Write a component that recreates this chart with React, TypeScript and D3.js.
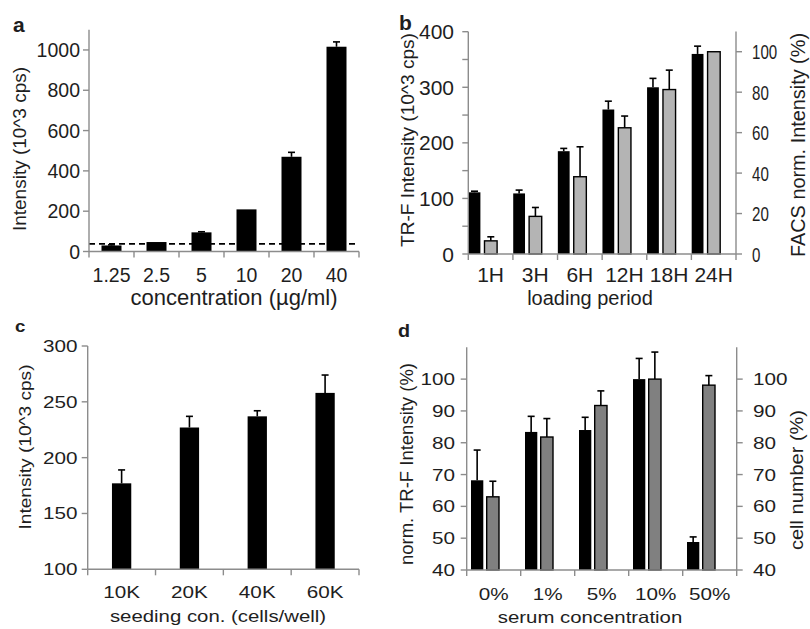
import React from 'react';
import * as d3 from 'd3';

// ---------- DATA ----------
const concCats = ['1.25', '2.5', '5', '10', '20', '40'];
const concVals = [30, 47, 95, 209, 470, 1016];
const concErr = [3, 2, 3, 2, 22, 24];
const concThreshold = 38;
const concTicks = [0, 200, 400, 600, 800, 1000];

const loadCats = ['1H', '3H', '6H', '12H', '18H', '24H'];
const loadTRF = [111, 109, 185, 260, 300, 360];
const loadTRFErr = [2, 6, 5, 15, 16, 14];
const loadFACS = [6.5, 18.6, 38.2, 62.4, 81.3, 100];
const loadFACSErr = [2, 4.4, 14.8, 5.8, 9.6, 0];
const loadLeftTicks = [0, 50, 100, 150, 200, 250, 300, 350, 400];
const loadLeftLabels = [0, 100, 200, 300, 400];
const loadRightTicks = [0, 20, 40, 60, 80, 100];

const seedCats = ['10K', '20K', '40K', '60K'];
const seedVals = [177, 227, 237, 258];
const seedErr = [12, 10, 5, 16];
const seedTicks = [100, 150, 200, 250, 300];

const serumCats = ['0%', '1%', '5%', '10%', '50%'];
const serumTRF = [68.2, 83.4, 84, 100, 48.8];
const serumTRFErr = [9.5, 4.9, 4, 6.5, 1.6];
const serumCell = [63, 81.8, 91.7, 100, 98.1];
const serumCellErr = [4.9, 5.8, 4.6, 8.5, 3];
const serumTicks = [40, 50, 60, 70, 80, 90, 100];

// ---------- STYLE ----------
const FONT = '"Liberation Sans", Arial, Helvetica, sans-serif';
const AXIS = '#8c8c8c';
const TXT = '#1e1e1e';

function T(props: {
  x: number; y: number; s: number; sx?: number; anchor?: string; rot?: boolean;
  bold?: boolean; len?: number; children: React.ReactNode;
}) {
  const { x, y, s, sx = 1, anchor = 'middle', rot = false, bold = false, len } = props;
  const tr = rot ? `translate(${x},${y}) rotate(-90)` : `translate(${x},${y}) scale(${sx},1)`;
  return (
    <text
      transform={tr}
      fontSize={s}
      fontFamily={FONT}
      fontWeight={bold ? 'bold' : 'normal'}
      fill={TXT}
      textAnchor={anchor as any}
      textLength={len}
      lengthAdjust={len ? 'spacingAndGlyphs' : undefined}
    >
      {props.children}
    </text>
  );
}

function ErrBar({ cx, y0, y1 }: { cx: number; y0: number; y1: number }) {
  if (Math.abs(y0 - y1) < 0.5) return null;
  return (
    <g stroke="#000" strokeWidth={1.6}>
      <line x1={cx} x2={cx} y1={y0} y2={y1} />
      <line x1={cx - 3.5} x2={cx + 3.5} y1={y1} y2={y1} />
    </g>
  );
}

function PanelA() {
  const x = d3.scaleBand<string>().domain(concCats).range([89, 359]);
  const y = d3.scaleLinear().domain([0, 1100]).range([251.5, 29.8]);
  const bw = 20;
  const edges = concCats.map((c) => x(c)!).concat([359]);
  return (
    <g>
      {concCats.map((c, i) => {
        const cx = x(c)! + x.bandwidth() / 2;
        return (
          <g key={c}>
            <rect x={cx - bw / 2} y={y(concVals[i])} width={bw} height={y(0) - y(concVals[i])} fill="#000" />
            <ErrBar cx={cx} y0={y(concVals[i])} y1={y(concVals[i] + concErr[i])} />
          </g>
        );
      })}
      <line x1={89} x2={359} y1={y(concThreshold)} y2={y(concThreshold)} stroke="#000" strokeWidth={1.6} strokeDasharray="6,4" />
      <g stroke={AXIS} strokeWidth={1.4}>
        <line x1={89} x2={89} y1={y(1100)} y2={y(0)} />
        <line x1={89} x2={359} y1={y(0)} y2={y(0)} />
        {concTicks.map((t) => <line key={t} x1={83} x2={89} y1={y(t)} y2={y(t)} />)}
        {edges.map((e, i) => <line key={i} x1={e} x2={e} y1={y(0)} y2={y(0) + 6} />)}
      </g>
      {concTicks.map((t) => <T key={t} x={80} y={y(t) + 7} s={19.5} anchor="end">{t}</T>)}
      {concCats.map((c) => <T key={c} x={x(c)! + x.bandwidth() / 2} y={282} s={19.5}>{c}</T>)}
      <T x={234} y={305} s={22}>concentration (µg/ml)</T>
      <T x={26} y={149} s={19} rot>Intensity (10^3 cps)</T>
      <T x={13} y={32} s={21} bold anchor="start">a</T>
    </g>
  );
}

function PanelB() {
  const x0 = 468.3, x1 = 736;
  const x = d3.scaleBand<string>().domain(loadCats).range([x0, x1]);
  const yl = d3.scaleLinear().domain([0, 400]).range([254, 31.7]);
  const yr = d3.scaleLinear().domain([0, 110]).range([254, 31.5]);
  const edges = loadCats.map((c) => x(c)!).concat([x1]);
  return (
    <g>
      {loadCats.map((c, i) => {
        const bx = x(c)!;
        const bl = bx + 0.3, wl = 11.8;
        const gl = bx + 16.2, wg = 12.6;
        return (
          <g key={c}>
            <rect x={bl} y={yl(loadTRF[i])} width={wl} height={yl(0) - yl(loadTRF[i])} fill="#000" />
            <ErrBar cx={bl + wl / 2} y0={yl(loadTRF[i])} y1={yl(loadTRF[i] + loadTRFErr[i])} />
            <rect x={gl} y={yr(loadFACS[i])} width={wg} height={yr(0) - yr(loadFACS[i])} fill="#b4b4b4" stroke="#000" strokeWidth={1.4} />
            <ErrBar cx={gl + wg / 2} y0={yr(loadFACS[i])} y1={yr(loadFACS[i] + loadFACSErr[i])} />
          </g>
        );
      })}
      <g stroke={AXIS} strokeWidth={1.4}>
        <line x1={x0} x2={x0} y1={yl(400)} y2={yl(0)} />
        <line x1={x1} x2={x1} y1={yr(110)} y2={yr(0)} />
        <line x1={x0} x2={x1} y1={yl(0)} y2={yl(0)} />
        {loadLeftTicks.map((t) => <line key={t} x1={x0 - 6} x2={x0} y1={yl(t)} y2={yl(t)} />)}
        {loadRightTicks.map((t) => <line key={t} x1={x1} x2={x1 + 6} y1={yr(t)} y2={yr(t)} />)}
        {edges.map((e, i) => <line key={i} x1={e} x2={e} y1={yl(0)} y2={yl(0) + 6} />)}
      </g>
      {loadLeftLabels.map((t) => <T key={t} x={454} y={yl(t) + 7.5} s={21} anchor="end">{t}</T>)}
      {loadRightTicks.map((t) => <T key={t} x={752} y={yr(t) + 7.5} s={21} sx={0.72} anchor="start">{t}</T>)}
      {loadCats.map((c) => <T key={c} x={x(c)! + x.bandwidth() / 2} y={282} s={21}>{c}</T>)}
      <T x={590} y={305} s={20}>loading period</T>
      <T x={414} y={140} s={19} rot len={214}>TR-F Intensity (10^3 cps)</T>
      <T x={805} y={145} s={20} rot len={224}>FACS norm. Intensity (%)</T>
      <T x={399} y={30} s={21} bold anchor="start">b</T>
    </g>
  );
}

function PanelC() {
  const x0 = 87.7, x1 = 359;
  const x = d3.scaleBand<string>().domain(seedCats).range([x0, x1]);
  const y = d3.scaleLinear().domain([100, 300]).range([569.3, 346]);
  const bw = 19.3;
  const edges = seedCats.map((c) => x(c)!).concat([x1]);
  return (
    <g>
      {seedCats.map((c, i) => {
        const cx = x(c)! + x.bandwidth() / 2;
        return (
          <g key={c}>
            <rect x={cx - bw / 2} y={y(seedVals[i])} width={bw} height={y(100) - y(seedVals[i])} fill="#000" />
            <ErrBar cx={cx} y0={y(seedVals[i])} y1={y(seedVals[i] + seedErr[i])} />
          </g>
        );
      })}
      <g stroke={AXIS} strokeWidth={1.4}>
        <line x1={x0} x2={x0} y1={y(300)} y2={y(100)} />
        <line x1={x0} x2={x1} y1={y(100)} y2={y(100)} />
        {seedTicks.map((t) => <line key={t} x1={x0 - 6} x2={x0} y1={y(t)} y2={y(t)} />)}
        {edges.map((e, i) => <line key={i} x1={e} x2={e} y1={y(100)} y2={y(100) + 6} />)}
      </g>
      {seedTicks.map((t) => <T key={t} x={77.5} y={y(t) + 6} s={16.3} sx={1.27} anchor="end">{t}</T>)}
      {seedCats.map((c) => <T key={c} x={x(c)! + x.bandwidth() / 2} y={598} s={16.3} sx={1.27}>{c}</T>)}
      <T x={218} y={622} s={16.3} sx={1.25}>seeding con. (cells/well)</T>
      <T x={31} y={447} s={17} rot len={165}>Intensity (10^3 cps)</T>
      <T x={15} y={332} s={17} bold anchor="start" sx={1.1}>c</T>
    </g>
  );
}

function PanelD() {
  const x0 = 466.7, x1 = 736.7;
  const x = d3.scaleBand<string>().domain(serumCats).range([x0, x1]);
  const y = d3.scaleLinear().domain([40, 110]).range([570, 347.3]);
  const edges = serumCats.map((c) => x(c)!).concat([x1]);
  return (
    <g>
      {serumCats.map((c, i) => {
        const bx = x(c)!;
        const bl = bx + 4.3, w = 12.3;
        const gl = bx + 20;
        return (
          <g key={c}>
            <rect x={bl} y={y(serumTRF[i])} width={w} height={y(40) - y(serumTRF[i])} fill="#000" />
            <ErrBar cx={bl + w / 2} y0={y(serumTRF[i])} y1={y(serumTRF[i] + serumTRFErr[i])} />
            <rect x={gl} y={y(serumCell[i])} width={w} height={y(40) - y(serumCell[i])} fill="#808080" stroke="#000" strokeWidth={1.4} />
            <ErrBar cx={gl + w / 2} y0={y(serumCell[i])} y1={y(serumCell[i] + serumCellErr[i])} />
          </g>
        );
      })}
      <g stroke={AXIS} strokeWidth={1.4}>
        <line x1={x0} x2={x0} y1={y(110)} y2={y(40)} />
        <line x1={x1} x2={x1} y1={y(110)} y2={y(40)} />
        <line x1={x0} x2={x1} y1={y(40)} y2={y(40)} />
        {serumTicks.map((t) => <line key={'l' + t} x1={x0 - 6} x2={x0} y1={y(t)} y2={y(t)} />)}
        {serumTicks.map((t) => <line key={'r' + t} x1={x1} x2={x1 + 6} y1={y(t)} y2={y(t)} />)}
        {edges.map((e, i) => <line key={i} x1={e} x2={e} y1={y(40)} y2={y(40) + 6} />)}
      </g>
      {serumTicks.map((t) => <T key={'l' + t} x={455} y={y(t) + 6} s={16.3} sx={1.27} anchor="end">{t}</T>)}
      {serumTicks.map((t) => <T key={'r' + t} x={753} y={y(t) + 6} s={16.3} sx={1.27} anchor="start">{t}</T>)}
      {serumCats.map((c) => <T key={c} x={x(c)! + x.bandwidth() / 2} y={600} s={16.3} sx={1.27}>{c}</T>)}
      <T x={590} y={623} s={16.3} sx={1.25}>serum concentration</T>
      <T x={413} y={464} s={18} rot len={202}>norm. TR-F Intensity (%)</T>
      <T x={803} y={480} s={18} rot len={140}>cell number  (%)</T>
      <T x={398} y={337} s={18} bold anchor="start" sx={1.1}>d</T>
    </g>
  );
}

export default function App() {
  return (
    <svg
      width={810}
      height={629}
      viewBox="0 0 810 629"
      style={{ position: 'absolute', left: 0, top: 0, background: '#fff' }}
    >
      <rect width={810} height={629} fill="#fff" />
      <PanelA />
      <PanelB />
      <PanelC />
      <PanelD />
    </svg>
  );
}
